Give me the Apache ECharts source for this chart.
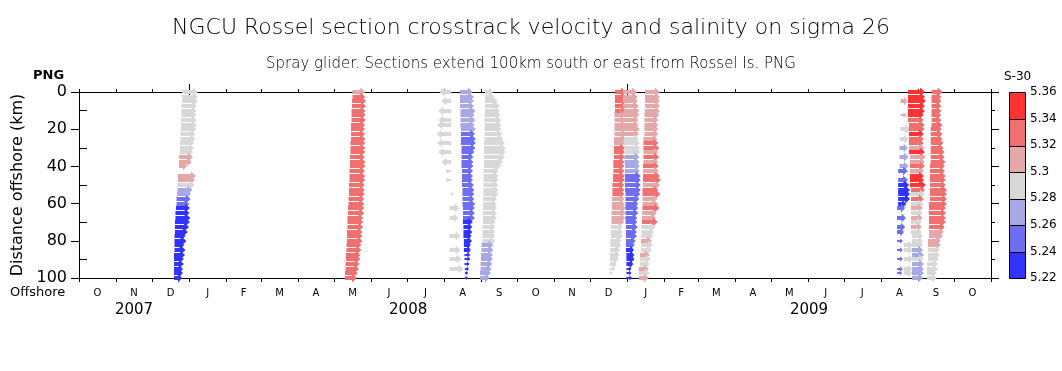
<!DOCTYPE html>
<html><head><meta charset="utf-8">
<script src="https://cdn.jsdelivr.net/npm/echarts@6/dist/echarts.min.js"></script>
<style>html,body{margin:0;padding:0;background:#fff}#c{width:1062px;height:371px}</style>
</head><body><div id="c"></div>
<script>
// ---------------- DATA ----------------
const TITLE = 'NGCU Rossel section crosstrack velocity and salinity on sigma 26';
const SUBTITLE = 'Spray glider. Sections extend 100km south or east from Rossel Is. PNG';
const MONTH_LETTERS = ['O','N','D','J','F','M','A','M','J','J','A','S','O','N','D','J','F','M','A','M','J','J','A','S','O'];
const YEARS = ['2007','2008','2009'];
const Y_TICKS = [0,20,40,60,80,100];
const SAL_EDGES = [5.22,5.24,5.26,5.28,5.30,5.32,5.34,5.36];
const SAL_COLORS = ['#3333ff','#6e6ef0','#a8a8e4','#d8d8d8','#e4a8a8','#f07070','#ff3333'];

// distance offshore of each profile row (km)
const KM = [0,2.5,5,7.5,10,12.5,15,17.5,20,22.5,25,27.5,30,32.5,35,37.5,40,42.5,45,47.5,50,52.5,55,57.5,60,62.5,65,67.5,70,72.5,75,77.5,80,82.5,85,87.5,90,92.5,95,97.5,100];

// Per section: T = time of profile (days since 2007-10-01), U = crosstrack velocity (cm/s), S = salinity-30
const A_T = [86.1,86.1,86.1,85.6,85.6,85.6,85.2,85.2,85.2,84.8,84.8,84.4,84.4,84.4,83.5,83.5,83.5,83.1,82.7,82.7,82.3,82.3,81.9,81.5,81.5,81.0,80.6,80.6,80.2,80.2,80.2,79.8,79.8,79.8,79.8,79.4,79.4,79.4,79.4,79.4,79.4];
const A_U = [53,53,53,52,50,50,53,53,52,50,50,47,47,43,47,43,27,null,60,57,57,50,47,47,43,47,47,50,50,47,43,37,40,33,37,37,33,33,30,30,27];
const A_S = [5.29,5.29,5.29,5.29,5.29,5.29,5.29,5.29,5.29,5.29,5.29,5.29,5.29,5.29,5.31,5.31,5.31,5.31,5.31,5.31,5.29,5.27,5.27,5.25,5.25,5.23,5.23,5.23,5.23,5.23,5.23,5.23,5.23,5.23,5.23,5.23,5.23,5.23,5.23,5.23,5.23];

const B_T = [228.5,228.5,228.1,228.1,227.7,227.7,227.7,227.3,227.3,227.3,227.3,226.8,226.8,226.8,226.4,226.4,226.4,226.0,226.0,226.0,225.6,225.6,225.6,225.2,225.2,224.7,224.7,224.3,224.3,224.3,223.9,223.9,223.9,223.5,223.5,223.1,223.1,222.7,222.7,222.2,222.2];
const B_U = [43,43,47,47,47,47,48,47,47,47,48,50,50,50,50,52,52,52,53,53,53,53,53,53,53,55,55,53,53,53,52,52,52,50,50,48,48,47,45,43,40];
const B_S = [5.31,5.33,5.33,5.33,5.33,5.33,5.33,5.33,5.33,5.33,5.33,5.33,5.33,5.33,5.33,5.33,5.33,5.33,5.33,5.33,5.33,5.33,5.33,5.33,5.33,5.33,5.33,5.33,5.33,5.33,5.33,5.33,5.33,5.33,5.33,5.33,5.33,5.33,5.33,5.33,5.33];

const C_T = [311.0,311.0,311.0,311.0,311.0,311.0,311.0,311.0,311.0,311.0,311.0,311.0,311.0,311.0,311.0,311.0,311.0,311.0,311.0,311.0,311.0,310.2,310.2,310.2,310.2,309.6,309.6,309.6,309.6,309.6,309.6,309.6,309.6,309.6,309.6,309.6,309.6,309.6,309.6,309.6,309.6];
const C_U = [-39,null,-33,null,-43,null,-43,-47,null,-49,null,-48,null,-43,null,-33,null,-20,null,-20,null,null,10,null,null,33,null,30,null,null,null,37,null,null,37,null,40,null,47,null,null];
const C_S = [5.29,5.29,5.29,5.29,5.29,5.29,5.29,5.29,5.29,5.29,5.29,5.29,5.29,5.29,5.29,5.29,5.29,5.29,5.29,5.29,5.29,5.29,5.29,5.29,5.29,5.29,5.29,5.29,5.29,5.29,5.29,5.29,5.29,5.29,5.29,5.29,5.29,5.29,5.29,5.29,5.29];

const D_T = [318.3,318.3,318.3,318.3,318.7,318.7,318.7,318.7,319.1,319.1,319.1,319.1,319.6,319.6,319.6,319.6,319.6,320.0,320.0,320.0,320.0,320.4,320.4,320.4,320.4,320.8,320.8,320.8,320.8,321.2,321.2,321.2,321.6,321.6,321.6,322.1,322.1,322.1,322.5,322.5,322.5];
const D_U = [43,47,47,47,50,47,50,47,50,47,50,50,47,43,40,40,40,37,37,37,40,40,40,40,43,40,40,40,33,30,30,27,27,23,23,20,20,17,13,10,10];
const D_S = [5.27,5.27,5.27,5.27,5.27,5.27,5.27,5.27,5.27,5.25,5.25,5.25,5.25,5.25,5.25,5.25,5.25,5.25,5.25,5.25,5.25,5.25,5.25,5.25,5.25,5.25,5.25,5.25,5.23,5.23,5.23,5.23,5.23,5.23,5.23,5.23,5.23,5.23,5.23,5.23,5.23];

const E_T = [339.2,339.2,339.2,339.2,339.2,338.8,338.8,338.8,338.8,338.8,338.8,338.4,338.4,338.4,338.4,338.4,338.4,338.0,338.0,338.0,338.0,338.0,338.0,337.5,337.5,337.5,337.5,337.5,337.5,337.1,337.1,337.1,337.1,336.3,336.3,335.9,335.9,335.5,335.5,335.0,335.0];
const E_U = [27,33,43,50,50,53,57,57,57,60,63,70,73,73,70,63,57,50,50,50,50,50,50,47,47,47,47,47,43,43,43,43,43,40,40,40,40,40,37,37,33];
const E_S = [5.29,5.29,5.29,5.29,5.29,5.29,5.29,5.29,5.29,5.29,5.29,5.29,5.29,5.29,5.29,5.29,5.29,5.29,5.29,5.29,5.29,5.29,5.29,5.29,5.29,5.29,5.29,5.29,5.29,5.29,5.29,5.29,5.29,5.27,5.27,5.27,5.27,5.27,5.27,5.27,5.27];

const F_T = [447.8,447.8,447.8,447.8,447.8,447.4,447.4,447.4,447.4,447.4,447.0,447.0,447.0,447.0,447.0,446.5,446.5,446.5,446.1,446.1,445.7,445.7,445.7,445.3,445.3,445.3,444.9,444.9,444.9,444.5,444.5,444.5,444.0,444.0,444.0,443.6,443.6,443.6,443.2,443.2,443.2];
const F_U = [37,40,40,40,37,37,37,40,40,40,40,37,37,37,37,37,37,37,40,40,40,40,40,43,43,47,47,47,43,40,40,40,37,37,33,33,30,23,20,10,null];
const F_S = [5.33,5.33,5.33,5.33,5.33,5.31,5.31,5.31,5.31,5.31,5.31,5.31,5.33,5.33,5.33,5.33,5.33,5.33,5.33,5.33,5.33,5.33,5.33,5.31,5.31,5.31,5.31,5.31,5.31,5.29,5.29,5.29,5.29,5.29,5.29,5.29,5.29,5.29,5.29,5.29,5.29];

const G_T = [454.5,454.5,454.5,454.5,455.0,455.0,455.0,455.0,455.4,455.4,455.4,455.4,455.8,455.8,455.8,455.8,456.2,456.2,456.2,456.2,456.2,456.2,456.6,456.6,456.6,456.6,456.6,456.6,456.6,457.0,457.0,457.0,457.0,457.0,457.0,457.4,457.4,457.4,457.4,457.4,457.4];
const G_U = [47,50,50,53,53,53,50,50,53,50,50,53,53,53,50,50,50,50,53,53,53,53,50,47,43,43,43,40,40,40,37,37,33,30,27,27,27,23,17,17,20];
const G_S = [5.31,5.31,5.31,5.31,5.31,5.31,5.31,5.31,5.31,5.31,5.29,5.29,5.29,5.29,5.27,5.27,5.27,5.27,5.25,5.25,5.25,5.25,5.25,5.25,5.25,5.25,5.25,5.25,5.25,5.25,5.25,5.25,5.25,5.25,5.23,5.23,5.23,5.23,5.23,5.23,5.23];

const H_T = [472.9,472.9,472.9,472.9,472.9,472.4,472.4,472.4,472.4,472.4,471.6,471.6,471.6,471.6,471.6,471.6,471.2,471.2,471.2,471.2,471.2,470.8,470.8,470.8,470.8,470.8,470.4,470.4,470.4,469.9,469.9,469.9,469.5,469.5,469.5,468.7,468.7,468.7,467.8,467.8,467.8];
const H_U = [50,50,50,50,50,50,47,47,47,47,47,50,53,50,53,50,53,53,57,60,57,53,60,50,53,57,50,47,53,47,43,40,37,40,37,33,37,33,33,37,33];
const H_S = [5.31,5.31,5.31,5.31,5.31,5.31,5.31,5.31,5.31,5.31,5.31,5.33,5.33,5.31,5.33,5.31,5.33,5.31,5.33,5.33,5.31,5.33,5.33,5.31,5.31,5.33,5.31,5.31,5.33,5.29,5.29,5.29,5.31,5.29,5.29,5.31,5.29,5.29,5.31,5.29,5.31];

const I_T = [686.4,686.4,686.4,686.4,686.4,686.4,686.4,686.4,686.4,685.6,685.6,685.6,685.6,685.6,685.6,685.6,685.6,684.4,684.4,684.4,684.4,684.4,684.4,684.4,684.4,683.5,683.5,683.5,683.5,683.5,683.5,683.5,683.5,683.5,683.5,683.5,683.5,683.5,683.5,683.5,683.5];
const I_U = [null,null,23,null,null,20,null,null,33,null,30,null,27,null,30,null,30,33,null,33,37,40,40,40,27,27,null,30,null,27,23,null,20,null,20,null,20,null,20,17,null];
const I_S = [5.31,5.31,5.31,5.31,5.31,5.31,5.29,5.29,5.29,5.29,5.29,5.29,5.27,5.27,5.27,5.27,5.27,5.25,5.25,5.25,5.23,5.23,5.23,5.23,5.23,5.25,5.25,5.25,5.25,5.25,5.25,5.25,5.25,5.25,5.25,5.25,5.25,5.25,5.25,5.25,5.25];

const I2_T = [689.3,689.3,689.3,689.3,689.3,689.3,689.3,689.3,689.3,689.3,689.3,689.3,689.3,689.3,689.3,689.3,689.3,689.3,689.3,689.3,689.3,689.3,689.3,689.3,689.3,689.3,689.3,689.3,689.3,689.3,689.3,689.3,689.3,689.3,689.3,689.3,689.3,689.3,689.3,689.3,689.3];
const I2_U = [null,null,null,null,null,null,null,null,null,null,null,null,null,null,null,null,null,null,null,null,null,null,null,null,null,null,null,null,null,null,null,null,null,30,30,null,30,null,27,27,null];
const I2_S = [5.29,5.29,5.29,5.29,5.29,5.29,5.29,5.29,5.29,5.29,5.29,5.29,5.29,5.29,5.29,5.29,5.29,5.29,5.29,5.29,5.29,5.29,5.29,5.29,5.29,5.29,5.29,5.29,5.29,5.29,5.29,5.29,5.29,5.29,5.29,5.29,5.29,5.29,5.29,5.29,5.29];

const J_T = [692.6,692.6,692.6,692.6,692.6,692.6,692.6,693.4,693.4,693.4,693.4,693.4,693.4,693.4,694.3,694.3,694.3,694.3,694.3,694.3,694.3,695.1,695.1,695.1,695.1,695.1,695.1,695.1,695.1,695.1,695.1,696.0,696.0,696.0,696.0,696.0,696.0,696.0,696.0,696.0,696.0];
const J_U = [57,57,60,57,57,53,53,53,53,50,50,50,53,53,53,50,50,47,47,47,53,47,47,43,43,40,40,40,37,37,37,37,37,37,37,40,40,40,40,40,37];
const J_S = [5.35,5.35,5.35,5.35,5.35,5.35,5.33,5.33,5.33,5.35,5.33,5.33,5.31,5.35,5.31,5.31,5.33,5.31,5.35,5.35,5.35,5.33,5.29,5.33,5.29,5.31,5.29,5.31,5.29,5.31,5.29,5.29,5.29,5.29,5.27,5.27,5.29,5.27,5.27,5.27,5.27];

const K_T = [712.3,712.3,712.3,712.3,712.3,712.3,712.3,712.3,711.6,711.6,711.6,711.6,711.6,711.6,711.6,711.6,711.0,711.0,711.0,711.0,711.0,711.0,711.0,711.0,710.2,710.2,710.2,710.2,710.2,710.2,710.2,710.2,709.3,709.3,709.3,709.3,709.3,708.5,708.5,708.5,708.5];
const K_U = [37,33,33,33,33,33,33,37,37,40,40,43,43,47,47,50,50,50,53,53,53,57,57,57,60,57,57,57,57,53,50,47,43,43,40,40,37,37,37,33,33];
const K_S = [5.33,5.33,5.33,5.33,5.33,5.33,5.33,5.33,5.33,5.33,5.33,5.33,5.33,5.33,5.33,5.33,5.33,5.33,5.33,5.33,5.33,5.33,5.33,5.33,5.33,5.33,5.33,5.33,5.33,5.33,5.31,5.31,5.31,5.31,5.29,5.29,5.29,5.29,5.29,5.29,5.29];

const SECTIONS = [
  [A_T,A_U,A_S],[B_T,B_U,B_S],[C_T,C_U,C_S],[D_T,D_U,D_S],[E_T,E_U,E_S],
  [F_T,F_U,F_S],[G_T,G_U,G_S],[H_T,H_U,H_S],[I_T,I_U,I_S],[I2_T,I2_U,I2_S],
  [J_T,J_U,J_S],[K_T,K_U,K_S]
];

// ---------------- STYLE / SCALES ----------------
const FONT = 'DejaVu Sans';
const DAYS_PER_CMS = 0.25;   // quiver scale: arrow length in days per cm/s
const DAY = 86400000;
const ORIGIN = Date.UTC(2007, 9, 1);
const dayOf = (y, m, d) => (Date.UTC(y, m, d) - ORIGIN) / DAY;
const XMAX = dayOf(2009, 10, 1);
const monthStarts = [];
for (let i = 0; i <= MONTH_LETTERS.length; i++) monthStarts.push(dayOf(2007, 9 + i, 1));
const monthMids = MONTH_LETTERS.map((_, i) => (monthStarts[i] + monthStarts[i + 1]) / 2);
const janStarts = [dayOf(2008, 0, 1), dayOf(2009, 0, 1)];
const yearBounds = [0, janStarts[0], janStarts[1], XMAX];
const yearCenters = YEARS.map((_, i) => (yearBounds[i] + yearBounds[i + 1]) / 2);

function salColor(s) {
  let k = Math.floor((s - SAL_EDGES[0]) / (SAL_EDGES[1] - SAL_EDGES[0]) + 1e-6);
  k = Math.max(0, Math.min(SAL_COLORS.length - 1, k));
  return SAL_COLORS[k];
}

function renderArrow(params, api) {
  const t0 = api.value(0), km = api.value(1), u = api.value(2), s = api.value(3);
  const tail = api.coord([t0, km]);
  const head = api.coord([t0 + u * DAYS_PER_CMS, km]);
  const dx = head[0] - tail[0];
  const len = Math.abs(dx);
  const dir = dx >= 0 ? 1 : -1;
  const yi = Math.round(tail[1]);
  const small = len < 6;
  const hl = Math.min(5, len * 0.5);
  const hh = small ? 2.5 : 4.5;
  const sTop = yi - (small ? 1 : 2), sBot = yi + (small ? 1 : 2);
  const yc = (sTop + sBot) / 2;
  const xb = head[0] - dir * hl;
  const pts = [[tail[0], sTop], [xb, sTop], [xb, yc - hh], [head[0], yc], [xb, yc + hh], [xb, sBot], [tail[0], sBot]];
  return { type: 'polygon', shape: { points: pts }, style: { fill: salColor(s) } };
}

const arrowSeries = SECTIONS.map(([T, U, S]) => ({
  type: 'custom',
  xAxisIndex: 0, yAxisIndex: 0,
  renderItem: renderArrow,
  silent: true,
  animation: false,
  data: KM.map((km, i) => [T[i], km, U[i], S[i]]).filter(d => d[2] !== null && d[2] !== undefined)
}));

const binData = SAL_COLORS.map((c, i) => [SAL_EDGES[i], SAL_EDGES[i + 1], i]);
const colorbarSeries = {
  type: 'custom', xAxisIndex: 5, yAxisIndex: 3, silent: true, animation: false,
  renderItem: (params, api) => {
    const p0 = api.coord([0, api.value(0)]);
    const p1 = api.coord([1, api.value(1)]);
    const x = Math.round(p0[0]) + 0.5, w = Math.round(p1[0] - p0[0]);
    const y = Math.round(p1[1]) + 0.5, h = Math.round(p0[1] - p1[1]);
    return { type: 'rect', shape: { x, y, width: w, height: h },
      style: { fill: SAL_COLORS[api.value(2)], stroke: '#000', lineWidth: 1 } };
  },
  data: binData
};

const black = { lineStyle: { color: '#000', width: 1 } };
const xBase = { type: 'value', gridIndex: 0, min: 0, max: XMAX, splitLine: { show: false } };

const option = {
  animation: false,
  backgroundColor: '#fff',
  title: [
    { text: TITLE, left: 'center', top: 12, textStyle: { fontFamily: FONT, fontSize: 22, fontWeight: 200, color: '#000' } },
    { text: SUBTITLE, left: 'center', top: 52, textStyle: { fontFamily: FONT, fontSize: 15, fontWeight: 200, color: '#000' } }
  ],
  grid: [
    { left: 79, top: 92, width: 912, height: 186 },
    { left: 1009, top: 92, width: 16, height: 186 }
  ],
  xAxis: [
    Object.assign({}, xBase, { position: 'bottom',
      axisLine: Object.assign({ show: true, onZero: false }, black),
      axisTick: Object.assign({ show: true, length: 4, customValues: monthStarts }, black),
      axisLabel: { show: true, customValues: monthMids, margin: 10, fontFamily: FONT, fontSize: 10, color: '#000',
        formatter: v => MONTH_LETTERS[monthMids.indexOf(v)] || '' } }),
    Object.assign({}, xBase, { position: 'bottom',
      axisLine: { show: false },
      axisTick: Object.assign({ show: true, length: 9, customValues: janStarts }, black),
      axisLabel: { show: false } }),
    Object.assign({}, xBase, { position: 'bottom',
      axisLine: { show: false }, axisTick: { show: false },
      axisLabel: { show: true, customValues: yearCenters, margin: 25, fontFamily: FONT, fontSize: 15, color: '#000',
        formatter: v => YEARS[yearCenters.indexOf(v)] || '' } }),
    Object.assign({}, xBase, { position: 'top',
      axisLine: Object.assign({ show: true, onZero: false }, black),
      axisTick: Object.assign({ show: true, length: 3, customValues: monthStarts }, black),
      axisLabel: { show: false } }),
    Object.assign({}, xBase, { position: 'top',
      axisLine: { show: false },
      axisTick: Object.assign({ show: true, length: 8, customValues: janStarts }, black),
      axisLabel: { show: false } }),
    { type: 'value', gridIndex: 1, min: 0, max: 1, show: false }
  ],
  yAxis: [
    { type: 'value', gridIndex: 0, position: 'left', inverse: true, min: 0, max: 100, interval: 20,
      name: 'Distance offshore (km)', nameLocation: 'middle', nameGap: 49,
      nameTextStyle: { fontFamily: FONT, fontSize: 16, color: '#000' },
      axisLine: Object.assign({ show: true, onZero: false }, black),
      axisTick: Object.assign({ show: true, length: 8, customValues: Y_TICKS }, black),
      axisLabel: { show: true, customValues: Y_TICKS, margin: 12, fontFamily: FONT, fontSize: 16, color: '#000' },
      splitLine: { show: false } },
    { type: 'value', gridIndex: 0, position: 'left', inverse: true, min: 0, max: 100,
      axisLine: { show: false },
      axisTick: Object.assign({ show: true, inside: true, length: 8, customValues: [10,30,50,70,90] }, black),
      axisLabel: { show: false }, splitLine: { show: false } },
    { type: 'value', gridIndex: 0, position: 'right', inverse: true, min: 0, max: 100, interval: 20,
      axisLine: Object.assign({ show: true, onZero: false }, black),
      axisTick: Object.assign({ show: true, length: 8 }, black),
      minorTick: { show: true, splitNumber: 2, length: 4, lineStyle: { color: '#000' } },
      axisLabel: { show: false }, splitLine: { show: false } },
    { type: 'value', gridIndex: 1, position: 'right', min: 5.22, max: 5.36, interval: 0.02,
      axisLine: { show: false }, axisTick: { show: false },
      axisLabel: { show: true, margin: 5, fontFamily: FONT, fontSize: 12, color: '#000',
        formatter: v => String(Math.round(v * 100) / 100) },
      splitLine: { show: false } }
  ],
  graphic: [
    { type: 'text', left: 33, top: 69, style: { text: 'PNG', fontFamily: FONT, fontSize: 13, fontWeight: 'bold', fill: '#000' } },
    { type: 'text', left: 10, top: 286, style: { text: 'Offshore', fontFamily: FONT, fontSize: 13, fill: '#000' } },
    { type: 'text', left: 1004, top: 71, style: { text: 'S-30', fontFamily: FONT, fontSize: 12, fill: '#000' } }
  ],
  series: arrowSeries.concat([colorbarSeries])
};

const chart = echarts.init(document.getElementById('c'), null, { renderer: 'canvas' });
chart.setOption(option);
</script>
</body></html>
